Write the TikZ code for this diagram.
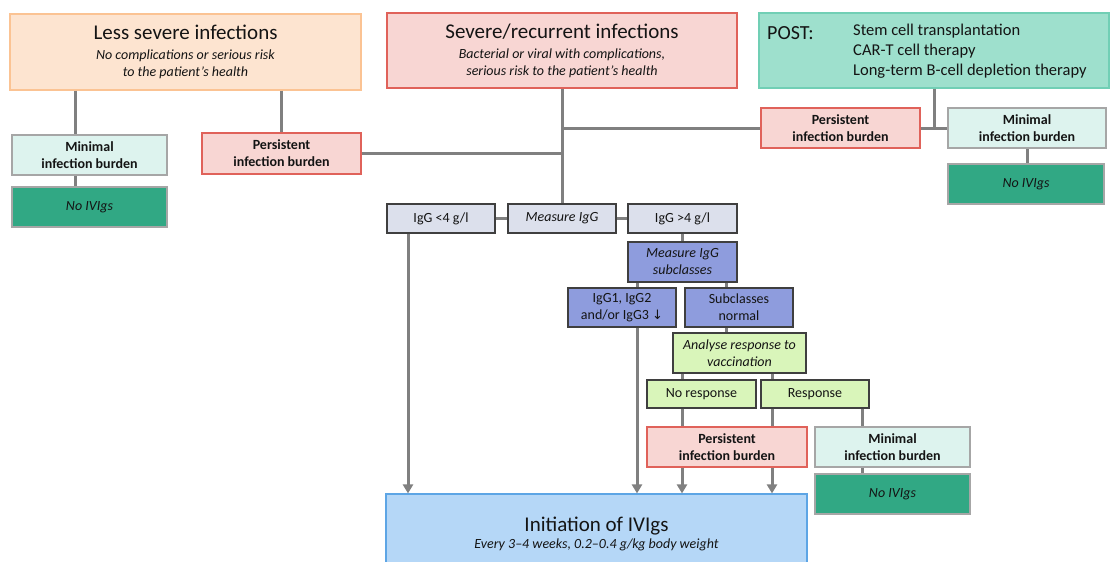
\documentclass[tikz,border=0pt]{standalone}
\usepackage{fontspec}
\setmainfont{Carlito}
\newfontfamily\dejavu{DejaVu Sans}
\usetikzlibrary{arrows.meta}
\definecolor{lessfill}{HTML}{FDE4D0}
\definecolor{lessdraw}{HTML}{FBC393}
\definecolor{sevfill}{HTML}{F8D6D3}
\definecolor{sevdraw}{HTML}{E0625A}
\definecolor{postfill}{HTML}{9EE0CD}
\definecolor{postdraw}{HTML}{71CFB5}
\definecolor{minfill}{HTML}{DDF3EE}
\definecolor{greydraw}{HTML}{A6A6A6}
\definecolor{nofill}{HTML}{31A884}
\definecolor{igfill}{HTML}{DCE0EC}
\definecolor{darkdraw}{HTML}{3F3F3F}
\definecolor{subfill}{HTML}{8E9CDD}
\definecolor{anafill}{HTML}{D9F5BA}
\definecolor{initfill}{HTML}{B5D7F7}
\definecolor{initdraw}{HTML}{5DA5E5}
\definecolor{linegrey}{HTML}{808080}
\definecolor{txtcol}{HTML}{141414}
\begin{document}
\begin{tikzpicture}[x=1pt,y=-1pt,line width=0.4pt,
  mybox/.style={draw, line width=1.1pt, inner sep=0pt, align=center, text=txtcol,
    font=\fontsize{14}{17}\selectfont},
  lessbox/.style={mybox, fill=lessfill, draw=lessdraw},
  sevbox/.style={mybox, fill=sevfill, draw=sevdraw},
  postbox/.style={mybox, fill=postfill, draw=postdraw},
  minbox/.style={mybox, fill=minfill, draw=greydraw, font=\fontsize{14}{17}\selectfont\bfseries},
  perbox/.style={mybox, fill=sevfill, draw=sevdraw, font=\fontsize{14}{17}\selectfont\bfseries},
  nobox/.style={mybox, fill=nofill, draw=greydraw, font=\fontsize{14}{17}\selectfont\itshape},
  igbox/.style={mybox, fill=igfill, draw=darkdraw},
  subbox/.style={mybox, fill=subfill, draw=darkdraw},
  anabox/.style={mybox, fill=anafill, draw=darkdraw},
  initbox/.style={mybox, fill=initfill, draw=initdraw},
  conn/.style={draw=linegrey, line width=3pt},
  arr/.style={conn, -{Triangle[length=9pt,width=10pt]}}
]
\useasboundingbox (0,0) rectangle (1112,562);

% top boxes
\node[lessbox, minimum width=351pt, minimum height=76pt] (less) at (185.5,52)
  {{\fontsize{21}{24}\selectfont Less severe infections}\\[3pt]
   \textit{No complications or serious risk}\\ \textit{to the patient’s health}};
\node[sevbox, minimum width=350pt, minimum height=75pt] (sev) at (562,50.5)
  {{\fontsize{21}{24}\selectfont Severe/recurrent infections}\\[3pt]
   \textit{Bacterial or viral with complications,}\\ \textit{serious risk to the patient’s health}};
\node[postbox, minimum width=350pt, minimum height=75pt] (post) at (934,50.5) {};
\node[anchor=west, text=txtcol, font=\fontsize{20}{22}\selectfont, inner sep=0pt] (postlbl) at (767,33) {POST:};
\node[anchor=north west, text=txtcol, font=\fontsize{16.5}{20}\selectfont, inner sep=0pt, align=left] (postlist) at (853,24)
  {Stem cell transplantation\\ CAR-T cell therapy\\ Long-term B-cell depletion therapy};

% left branch
\node[minbox, minimum width=155pt, minimum height=40pt] (minL) at (89.5,155) {Minimal\\ infection burden};
\node[nobox, minimum width=155pt, minimum height=40pt] (noL) at (89.5,207) {No IVIgs};
\node[perbox, minimum width=159pt, minimum height=41pt] (perL) at (281.5,153.5) {Persistent\\ infection burden};

% right branch
\node[perbox, minimum width=159pt, minimum height=40pt] (perR) at (840.5,128) {Persistent\\ infection burden};
\node[minbox, minimum width=158pt, minimum height=40pt] (minR) at (1027,128) {Minimal\\ infection burden};
\node[nobox, minimum width=156pt, minimum height=40pt] (noR) at (1026,184) {No IVIgs};

% IgG measurement
\node[igbox, minimum width=108pt, minimum height=29pt] (lt4) at (441,218.5) {IgG <4 g/l};
\node[igbox, minimum width=108pt, minimum height=29pt, font=\fontsize{14}{17}\selectfont\itshape] (meas) at (562,218.5) {Measure IgG};
\node[igbox, minimum width=109pt, minimum height=29pt] (gt4) at (682.5,218.5) {IgG >4 g/l};
\node[subbox, minimum width=109pt, minimum height=40pt, font=\fontsize{14}{17}\selectfont\itshape] (sub) at (682.5,262) {Measure IgG\\ subclasses};
\node[subbox, minimum width=108pt, minimum height=39pt] (igg1) at (622,307.5) {IgG1, IgG2\\ and/or IgG3 {\dejavu\fontsize{13}{17}\selectfont ↓}};
\node[subbox, minimum width=108pt, minimum height=39pt] (norm) at (739,307.5) {Subclasses\\ normal};
\node[anabox, minimum width=133pt, minimum height=40pt, font=\fontsize{14}{17}\selectfont\itshape] (ana) at (739.5,353) {Analyse response to\\ vaccination};
\node[anabox, minimum width=109pt, minimum height=28pt] (nores) at (701.5,394) {No response};
\node[anabox, minimum width=108pt, minimum height=28pt] (res) at (815,394) {Response};
\node[perbox, minimum width=160pt, minimum height=40pt] (perB) at (727,447) {Persistent\\ infection burden};
\node[minbox, minimum width=155pt, minimum height=40pt] (minB) at (892.5,447) {Minimal\\ infection burden};
\node[nobox, minimum width=155pt, minimum height=40pt] (noB) at (892.5,494) {No IVIgs};

\node[initbox, minimum width=421pt, minimum height=80pt] (init) at (596.5,534)
  {{\fontsize{21}{24}\selectfont Initiation of IVIgs}\\[0pt]
   \textit{Every 3–4 weeks, 0.2–0.4 g/kg body weight}};

% connectors: left
\draw[conn] (less.south -| 75,0) -- (minL.north -| 75,0);
\draw[conn] (minL.south -| 75,0) -- (noL.north -| 75,0);
\draw[conn] (less.south -| perL.north) -- (perL.north);
\draw[conn] (perL.east) -- (perL.east -| meas.north);
% trunk
\draw[conn] (sev.south) -- (meas.north);
\draw[conn] (perR.west -| meas.north) -- (perR.west);
% right
\coordinate (pj) at (post.south |- perR.east);
\draw[conn] (post.south) -- (pj);
\draw[conn] (perR.east) -- (minR.west);
\draw[conn] (minR.south) -- (noR.north -| minR.south);
% IgG row
\draw[conn] (meas.west) -- (lt4.east);
\draw[conn] (meas.east) -- (gt4.west);
\draw[arr] (lt4.south -| 408,0) -- (init.north -| 408,0);
\draw[conn] (gt4.south) -- (sub.north);
\draw[conn] (sub.south -| 637,0) -- (igg1.north -| 637,0);
\draw[conn] (sub.south -| 726,0) -- (norm.north -| 726,0);
\draw[arr] (igg1.south -| 637,0) -- (init.north -| 637,0);
\draw[conn] (norm.south -| 726,0) -- (ana.north -| 726,0);
\draw[conn] (ana.south -| 682,0) -- (nores.north -| 682,0);
\draw[conn] (ana.south -| 772,0) -- (res.north -| 772,0);
\draw[conn] (nores.south -| 682,0) -- (perB.north -| 682,0);
\draw[conn] (res.south -| 772,0) -- (perB.north -| 772,0);
\draw[conn] (res.south -| 862,0) -- (minB.north -| 862,0);
\draw[conn] (minB.south -| 862,0) -- (noB.north -| 862,0);
\draw[arr] (perB.south -| 682,0) -- (init.north -| 682,0);
\draw[arr] (perB.south -| 772,0) -- (init.north -| 772,0);
\end{tikzpicture}
\end{document}
